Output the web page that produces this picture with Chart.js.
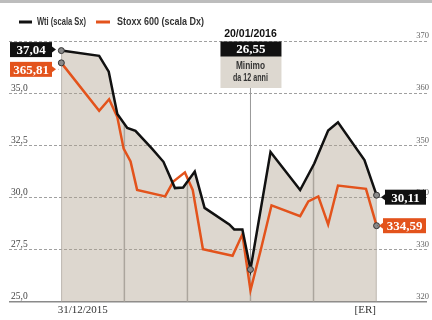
<!DOCTYPE html>
<html>
<head>
<meta charset="utf-8">
<script src="https://cdn.jsdelivr.net/npm/chart.js@4"></script>
<style>
  html, body { margin: 0; padding: 0; background: #fff; }
  #wrap { width: 432px; height: 320px; }
</style>
</head>
<body>
<div id="wrap"><canvas id="chart"></canvas></div>
<script>
// x = trading-day position from 31/12/2015 (weekly grid every 5)
const wtiX = [0, 3.0, 3.76, 4.44, 5.23, 5.88, 7.19, 8.1, 9.01, 9.66, 10.58, 11.36, 13.32, 13.71, 14.36, 15, 16.59, 18.94, 20.06, 21.16, 21.94, 24.04, 25];
const wtiY = [37.04, 36.79, 36.03, 34.0, 33.33, 33.19, 32.34, 31.71, 30.45, 30.48, 31.24, 29.5, 28.71, 28.47, 28.47, 26.55, 32.18, 30.36, 31.63, 33.21, 33.6, 31.79, 30.11];

const stoxxX = [0, 3.0, 3.79, 4.44, 4.94, 5.49, 6.01, 8.23, 8.88, 9.8, 10.42, 11.23, 13.58, 14.36, 15, 15.8, 16.67, 18.94, 19.59, 20.38, 21.16, 21.94, 24.16, 25];
const stoxxY = [365.81, 356.61, 358.83, 355.42, 349.36, 346.9, 341.46, 340.2, 343.05, 344.81, 341.46, 330.1, 328.84, 332.94, 322.2, 329.79, 338.5, 336.42, 339.26, 340.2, 334.83, 342.29, 341.65, 334.59];

const weekTicks = [0, 5, 10, 15, 20, 25];
const xTickPos = [1.7, 24.1];
const xTickLabels = ["31/12/2015", "[ER]"];
const leftTicks = [25, 27.5, 30, 32.5, 35, 37.5];
const rightTicks = [320, 330, 340, 350, 360, 370];

const minIdx = wtiY.indexOf(Math.min(...wtiY));

function fmt(v, d) {
  return v.toFixed(d).replace(".", ",");
}

function markerRadius(len, extra) {
  return (ctx) => (ctx.dataIndex === 0 || ctx.dataIndex === len - 1 || ctx.dataIndex === extra) ? 3 : 0;
}

// squeeze text horizontally to look like the condensed face of the original
function narrowText(ctx, text, x, y, maxW, align) {
  const mw = ctx.measureText(text).width;
  const sx = Math.min(1, maxW / mw);
  ctx.save();
  ctx.translate(x, y);
  ctx.scale(sx, 1);
  ctx.textAlign = align;
  ctx.fillText(text, 0, 0);
  ctx.restore();
}

function tag(ctx, text, x, yc, w, bg, font) {
  const h = 15;
  ctx.fillStyle = bg;
  ctx.fillRect(x, yc - h / 2, w, h);
  ctx.fillStyle = "#fff";
  ctx.font = font;
  ctx.textAlign = "center";
  ctx.textBaseline = "middle";
  ctx.fillText(text, x + w / 2, yc + 1);
}

function pointer(ctx, fromX, yc, toX, color) {
  const dir = toX > fromX ? 1 : -1;
  ctx.fillStyle = color;
  ctx.beginPath();
  ctx.moveTo(fromX, yc - 3);
  ctx.lineTo(fromX + dir * 4, yc);
  ctx.lineTo(fromX, yc + 3);
  ctx.closePath();
  ctx.fill();
  ctx.strokeStyle = "#666";
  ctx.lineWidth = 1;
  ctx.setLineDash([1, 2]);
  ctx.beginPath();
  ctx.moveTo(fromX + dir * 6, yc);
  ctx.lineTo(toX - dir * 3, yc);
  ctx.stroke();
  ctx.setLineDash([]);
}

const overlay = {
  id: "overlay",
  beforeDatasetsDraw(chart) {
    const ctx = chart.ctx;
    const area = chart.chartArea;
    const xs = chart.scales.x;
    const pts = chart.getDatasetMeta(0).data;
    ctx.save();
    ctx.beginPath();
    ctx.moveTo(pts[0].x, area.bottom);
    pts.forEach((p) => ctx.lineTo(p.x, p.y));
    ctx.lineTo(pts[pts.length - 1].x, area.bottom);
    ctx.closePath();
    ctx.clip();
    ctx.strokeStyle = "#aba59d";
    ctx.lineWidth = 1.5;
    weekTicks.forEach((v) => {
      const px = xs.getPixelForValue(v);
      ctx.beginPath();
      ctx.moveTo(px, area.top);
      ctx.lineTo(px, area.bottom);
      ctx.stroke();
    });
    ctx.restore();

    // line from the annotation box down to the low
    const mp = pts[minIdx];
    ctx.save();
    ctx.strokeStyle = "#999";
    ctx.lineWidth = 1;
    ctx.beginPath();
    ctx.moveTo(mp.x, area.top + 47);
    ctx.lineTo(mp.x, mp.y);
    ctx.stroke();
    ctx.restore();
  },
  afterDraw(chart) {
    const ctx = chart.ctx;
    const area = chart.chartArea;
    const wti = chart.getDatasetMeta(0).data;
    const sto = chart.getDatasetMeta(1).data;
    ctx.save();

    // top band
    ctx.fillStyle = "#bdbdbd";
    ctx.fillRect(0, 0, chart.width, 3);

    // legend
    ctx.lineWidth = 3;
    ctx.strokeStyle = "#111";
    ctx.beginPath(); ctx.moveTo(19, 22); ctx.lineTo(32, 22); ctx.stroke();
    ctx.strokeStyle = "#e3531c";
    ctx.beginPath(); ctx.moveTo(96, 22); ctx.lineTo(110, 22); ctx.stroke();
    ctx.fillStyle = "#333";
    ctx.font = "bold 11px 'Liberation Sans', sans-serif";
    ctx.textBaseline = "middle";
    narrowText(ctx, "Wti (scala Sx)", 37, 22, 49, "left");
    narrowText(ctx, "Stoxx 600 (scala Dx)", 117, 22, 87, "left");

    const numFont = "600 13px 'Liberation Serif', serif";

    // start values
    const w0 = wti[0], s0 = sto[0];
    tag(ctx, fmt(wtiY[0], 2), area.left + 1, w0.y - 1, 42, "#111", numFont);
    pointer(ctx, area.left + 43, w0.y - 1, w0.x, "#111");
    tag(ctx, fmt(stoxxY[0], 2), area.left + 1, s0.y + 6.5, 42, "#e3531c", numFont);
    pointer(ctx, area.left + 43, s0.y + 6.5, s0.x, "#e3531c");

    // end values
    const wl = wti[wti.length - 1], sl = sto[sto.length - 1];
    tag(ctx, fmt(wtiY[wtiY.length - 1], 2), area.right - 42, wl.y + 2, 41, "#111", numFont);
    pointer(ctx, area.right - 42, wl.y + 2, wl.x, "#111");
    tag(ctx, fmt(stoxxY[stoxxY.length - 1], 2), area.right - 44, sl.y, 43, "#e3531c", numFont);
    pointer(ctx, area.right - 44, sl.y, sl.x, "#e3531c");

    // low annotation
    const mp = wti[minIdx];
    const bx = mp.x - 30, bw = 61;
    ctx.fillStyle = "#111";
    ctx.font = "bold 10.5px 'Liberation Sans', sans-serif";
    ctx.textBaseline = "alphabetic";
    narrowText(ctx, "20/01/2016", mp.x, area.top - 4, 56, "center");
    ctx.fillStyle = "#ddd8d0";
    ctx.fillRect(bx, area.top + 15, bw, 32);
    tag(ctx, fmt(wtiY[minIdx], 2), bx, area.top + 8, bw, "#111", numFont);
    ctx.fillStyle = "#333";
    ctx.font = "bold 10.5px 'Liberation Sans', sans-serif";
    ctx.textBaseline = "middle";
    narrowText(ctx, "Minimo", mp.x, area.top + 25, 29, "center");
    narrowText(ctx, "da 12 anni", mp.x, area.top + 37, 35, "center");

    ctx.restore();
  }
};

new Chart(document.getElementById("chart"), {
  type: "line",
  data: {
    datasets: [
      {
        label: "Wti (scala Sx)",
        data: wtiX.map((x, i) => ({ x: x, y: wtiY[i] })),
        yAxisID: "y",
        borderColor: "#111",
        borderWidth: 2.5,
        backgroundColor: "rgba(175,160,140,0.42)",
        fill: "start",
        tension: 0,
        pointRadius: markerRadius(wtiY.length, minIdx),
        pointBackgroundColor: "#8a8a8a",
        pointBorderColor: "#333",
        pointBorderWidth: 1
      },
      {
        label: "Stoxx 600 (scala Dx)",
        data: stoxxX.map((x, i) => ({ x: x, y: stoxxY[i] })),
        yAxisID: "y1",
        borderColor: "#e3531c",
        borderWidth: 2.5,
        fill: false,
        tension: 0,
        pointRadius: markerRadius(stoxxY.length, -1),
        pointBackgroundColor: "#8a8a8a",
        pointBorderColor: "#333",
        pointBorderWidth: 1
      }
    ]
  },
  options: {
    responsive: true,
    maintainAspectRatio: false,
    animation: false,
    layout: { padding: { top: 41, left: 5, right: 0, bottom: 1 } },
    plugins: {
      legend: { display: false },
      tooltip: { enabled: false },
      filler: { drawTime: "beforeDatasetsDraw" }
    },
    scales: {
      x: {
        type: "linear",
        min: -4.15,
        max: 29.0,
        afterBuildTicks: (axis) => { axis.ticks = xTickPos.map((v) => ({ value: v })); },
        ticks: {
          callback: (v, i) => xTickLabels[i],
          font: { family: "'Liberation Serif', serif", size: 11 },
          color: "#333",
          padding: 2,
          maxRotation: 0,
          autoSkip: false
        },
        grid: { display: false, drawTicks: false },
        border: { display: false }
      },
      y: {
        position: "left",
        min: 25,
        max: 37.5,
        afterBuildTicks: (axis) => { axis.ticks = leftTicks.map((v) => ({ value: v })); },
        ticks: {
          mirror: true,
          padding: 2,
          labelOffset: -5,
          callback: (v) => (v === 37.5 ? "" : fmt(v, 1)),
          font: { family: "'Liberation Serif', serif", size: 9.5 },
          color: "#444"
        },
        grid: {
          drawTicks: false,
          color: (c) => (c.tick && c.tick.value === 25 ? "#8a8a8a" : "#a0a0a0"),
          lineWidth: (c) => (c.tick && c.tick.value === 25 ? 1.5 : 1)
        },
        border: {
          display: false,
          dash: (c) => (c.tick && c.tick.value === 25 ? [] : [3, 2])
        }
      },
      y1: {
        position: "right",
        min: 320,
        max: 370,
        afterBuildTicks: (axis) => { axis.ticks = rightTicks.map((v) => ({ value: v })); },
        ticks: {
          mirror: true,
          padding: 2,
          labelOffset: -5,
          font: { family: "'Liberation Serif', serif", size: 8.5 },
          color: "#666"
        },
        grid: { display: false, drawTicks: false },
        border: { display: false }
      }
    }
  },
  plugins: [overlay]
});
</script>
</body>
</html>
